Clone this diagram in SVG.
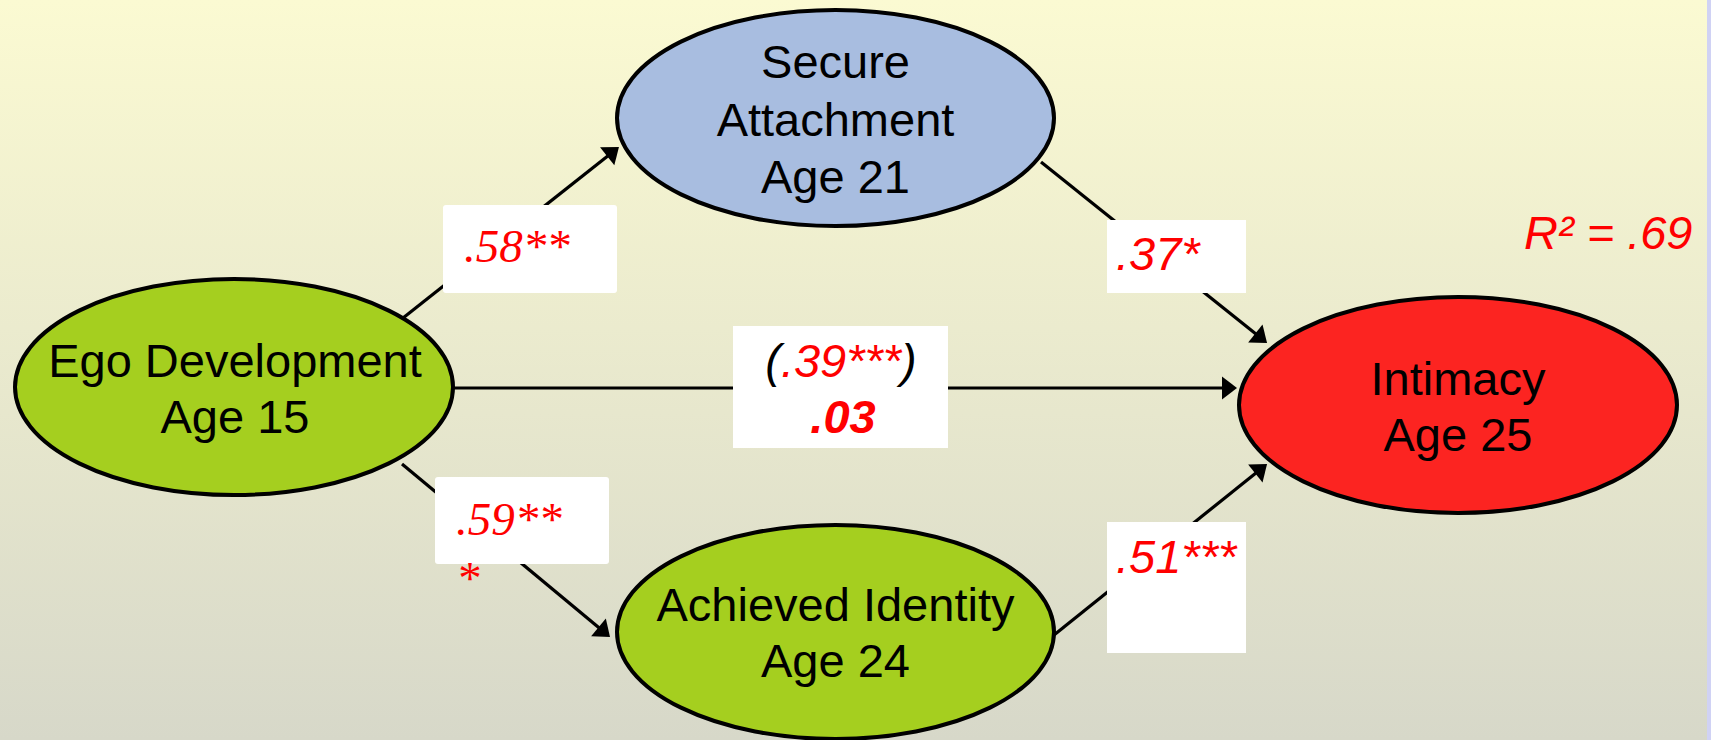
<svg xmlns="http://www.w3.org/2000/svg" width="1711" height="740" viewBox="0 0 1711 740">
  <defs>
    <linearGradient id="bg" x1="0" y1="0" x2="0" y2="1">
      <stop offset="0" stop-color="#FBFAD2"/>
      <stop offset="1" stop-color="#D7D8C9"/>
    </linearGradient>
    <marker id="arrow" markerUnits="userSpaceOnUse" markerWidth="16" markerHeight="24" refX="12" refY="0" orient="auto" overflow="visible">
      <path d="M0,-11.5 L15,0 L0,11.5 z" fill="#000"/>
    </marker>
    <style>
      .node { stroke: #000; stroke-width: 4; }
      .green { fill: #A5CF1F; }
      .blue { fill: #A8BDE0; }
      .red { fill: #FC2421; }
      .ntext { font-family: "Liberation Sans", Arial, sans-serif; font-size: 47px; fill: #000; text-anchor: middle; }
      .edge { stroke: #000; stroke-width: 3.2; fill: none; marker-end: url(#arrow); }
      .lbox { fill: #FFFFFF; }
      .serif { font-family: "Liberation Serif", "Times New Roman", serif; font-size: 47px; font-style: italic; fill: #FF0000; }
      .sans { font-family: "Liberation Sans", Arial, sans-serif; font-size: 47px; font-style: italic; fill: #FF0000; }
      .blk { fill: #000; }
    </style>
  </defs>

  <rect x="0" y="0" width="1711" height="740" fill="url(#bg)"/>
  <rect x="1707" y="0" width="4" height="740" fill="#D0D2F4"/>

  <g id="connectors">
    <line class="edge" x1="403" y1="318" x2="616.6" y2="148.9"/>
    <line class="edge" x1="1041" y1="162" x2="1264.7" y2="341.1"/>
    <line class="edge" x1="402" y1="464" x2="607.7" y2="635.1"/>
    <line class="edge" x1="1054" y1="635" x2="1264.7" y2="465.9"/>
    <line class="edge" x1="453" y1="388" x2="1234" y2="388"/>
  </g>

  <g id="node-ego">
    <ellipse class="node green" cx="234" cy="387" rx="219" ry="108"/>
    <text class="ntext" x="235" y="377">Ego Development</text>
    <text class="ntext" x="235" y="433">Age 15</text>
  </g>

  <g id="node-secure">
    <ellipse class="node blue" cx="835.5" cy="118" rx="218.5" ry="108"/>
    <text class="ntext" x="835.5" y="78">Secure</text>
    <text class="ntext" x="835.5" y="136">Attachment</text>
    <text class="ntext" x="835.5" y="193">Age 21</text>
  </g>

  <g id="node-achieved">
    <ellipse class="node green" cx="835.5" cy="632" rx="218.5" ry="107"/>
    <text class="ntext" x="835.5" y="621">Achieved Identity</text>
    <text class="ntext" x="835.5" y="677">Age 24</text>
  </g>

  <g id="node-intimacy">
    <ellipse class="node red" cx="1458" cy="405" rx="219" ry="108"/>
    <text class="ntext" x="1458" y="395">Intimacy</text>
    <text class="ntext" x="1458" y="451">Age 25</text>
  </g>

  <g id="edge-labels">
    <rect class="lbox" x="443" y="205" width="174" height="88" rx="3"/>
    <text class="serif" x="464" y="262">.58**</text>

    <rect class="lbox" x="435" y="477" width="174" height="87" rx="3"/>
    <text class="serif" x="456" y="535">.59**</text>
    <text class="serif" x="456" y="594">*</text>

    <rect class="lbox" x="1107" y="220" width="139" height="73"/>
    <text class="sans" x="1116" y="270">.37*</text>

    <rect class="lbox" x="1107" y="522" width="139" height="131"/>
    <text class="sans" x="1116" y="573">.51***</text>

    <rect class="lbox" x="733" y="326" width="215" height="122"/>
    <text class="sans" x="841" y="377" text-anchor="middle"><tspan class="blk">(</tspan>.39***<tspan class="blk">)</tspan></text>
    <text class="sans" x="843" y="433" text-anchor="middle" font-weight="bold">.03</text>
  </g>

  <g id="r-squared">
    <text class="sans" x="1524" y="249">R² = .69</text>
  </g>
</svg>
